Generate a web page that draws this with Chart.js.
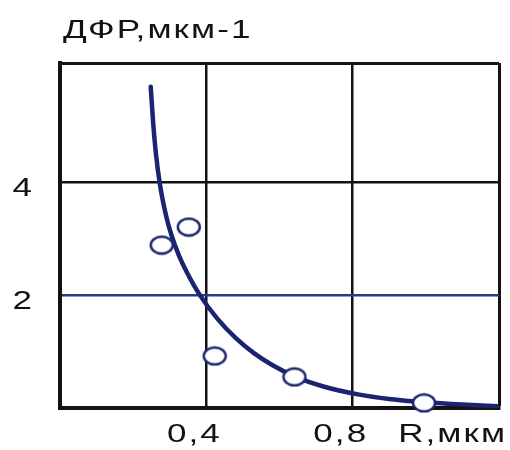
<!DOCTYPE html>
<html>
<head>
<meta charset="utf-8">
<script src="https://cdn.jsdelivr.net/npm/chart.js@4/dist/chart.umd.min.js"></script>
<style>
  html, body { margin: 0; padding: 0; background: #ffffff; }
  #wrap { width: 510px; height: 450px; }
</style>
</head>
<body>
<div id="wrap"><canvas id="chart" width="510" height="450"></canvas></div>
<script>
// Measured points: particle radius R (мкм) vs ДФР (мкм^-1)
const rValues   = [0.278, 0.352, 0.423, 0.641, 0.995];
const dfrValues = [2.88, 3.20, 0.92, 0.55, 0.09];

// Hand-fitted trend curve through the measurements
const curveR   = [0.248, 0.255, 0.262, 0.273, 0.290, 0.305, 0.325, 0.346, 0.382, 0.430, 0.480, 0.530, 0.580, 0.641, 0.720, 0.818, 0.900, 1.000, 1.100, 1.200];
const curveDfr = [5.68, 5.01, 4.51, 3.96, 3.40, 3.05, 2.70, 2.41, 2.00, 1.58, 1.24, 0.97, 0.76, 0.56, 0.38, 0.236, 0.16, 0.10, 0.06, 0.03];

// Axis ticks and labels
const xTicks = [0.4, 0.8];
const xTickLabels = ['0,4', '0,8'];
const yTicks = [2, 4];
const yTickLabels = ['2', '4'];
const xMin = 0, xMax = 1.2;
const yMin = 0, yMax = 6.1;
const yTitle = 'ДФР,мкм-1';
const xTitle = 'R,мкм';

const INK = '#121212';
const NAVY = '#1b2470';

// Open-circle marker, slightly wide
function ringMarker() {
  const c = document.createElement('canvas');
  c.width = 26; c.height = 21;
  const g = c.getContext('2d');
  g.beginPath();
  g.ellipse(13, 10.5, 11, 8.5, 0, 0, Math.PI * 2);
  g.fillStyle = '#ffffff';
  g.fill();
  g.lineWidth = 2.4;
  g.strokeStyle = NAVY;
  g.stroke();
  return c;
}

const toXY = (xs, ys) => xs.map((x, i) => ({ x: x, y: ys[i] }));

// Wide-set lettering for ticks and axis names
function wideText(ctx, text, x, y, align) {
  const sx = 1.4, gap = 1.5;
  ctx.save();
  ctx.font = '25px "Liberation Sans", Arial, sans-serif';
  ctx.letterSpacing = gap + 'px';
  ctx.fillStyle = INK;
  ctx.textBaseline = 'alphabetic';
  const w = (ctx.measureText(text).width - gap) * sx;
  let left = x;
  if (align === 'right') left = x - w;
  else if (align === 'center') left = x - w / 2;
  ctx.translate(left, y);
  ctx.scale(sx, 1);
  ctx.textAlign = 'left';
  ctx.fillText(text, 0, 0);
  ctx.restore();
}

const labelPlugin = {
  id: 'labels',
  afterDraw(chart) {
    const ctx = chart.ctx;
    const xs = chart.scales.x, ys = chart.scales.y;
    xTicks.forEach((v, i) => wideText(ctx, xTickLabels[i], xs.getPixelForValue(v) - 13, 442, 'center'));
    yTicks.forEach((v, i) => wideText(ctx, yTickLabels[i], 32, ys.getPixelForValue(v) + 14, 'right'));
    wideText(ctx, xTitle, xs.getPixelForValue(xMax) + 6, 442, 'right');
    wideText(ctx, yTitle, 63, 38, 'left');
  }
};

new Chart(document.getElementById('chart'), {
  type: 'scatter',
  data: {
    datasets: [
      {
        label: 'points',
        data: toXY(rValues, dfrValues),
        pointStyle: ringMarker(),
        pointRadius: 10,
        showLine: false,
        clip: false,
        order: 0
      },
      {
        label: 'curve',
        type: 'line',
        data: toXY(curveR, curveDfr),
        borderColor: NAVY,
        borderWidth: 4.5,
        pointRadius: 0,
        fill: false,
        cubicInterpolationMode: 'monotone',
        borderCapStyle: 'round',
        order: 1
      }
    ]
  },
  options: {
    responsive: false,
    animation: false,
    events: [],
    layout: { padding: { top: 63, right: 10, left: 0, bottom: 0 } },
    plugins: { legend: { display: false }, tooltip: { enabled: false }, title: { display: false } },
    scales: {
      x: {
        type: 'linear',
        min: xMin, max: xMax,
        afterBuildTicks: s => { s.ticks = [xMin, ...xTicks, xMax].map(v => ({ value: v })); },
        afterFit: s => { s.height = 42; },
        ticks: { display: false },
        border: { display: true, color: INK, width: 4 },
        grid: {
          drawTicks: false,
          color: c => (c.tick && c.tick.value === xMin) ? 'rgba(0,0,0,0)' : INK,
          lineWidth: c => (c.tick && c.tick.value === xMax) ? 3 : 2.5
        }
      },
      y: {
        type: 'linear',
        min: yMin, max: yMax,
        afterBuildTicks: s => { s.ticks = [yMin, ...yTicks, yMax].map(v => ({ value: v })); },
        afterFit: s => { s.width = 60; },
        ticks: { display: false },
        border: { display: true, color: INK, width: 4 },
        grid: {
          drawTicks: false,
          color: c => {
            const v = c.tick ? c.tick.value : null;
            if (v === yMin) return 'rgba(0,0,0,0)';
            if (v === 2) return '#233c8c';
            return INK;
          },
          lineWidth: c => (c.tick && c.tick.value === yMax) ? 3 : 2.5
        }
      }
    }
  },
  plugins: [labelPlugin]
});
</script>
</body>
</html>
